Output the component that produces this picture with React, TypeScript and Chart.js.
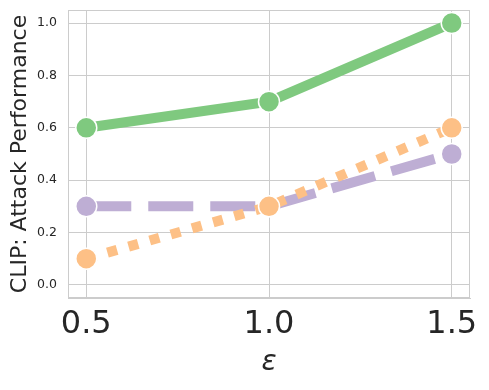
import React, { useEffect, useRef } from "react";
import { Chart, registerables } from "chart.js";

Chart.register(...registerables);

const epsilons = [0.5, 1.0, 1.5];
const greenValues = [0.6, 0.7, 1.0];
const purpleValues = [0.3, 0.3, 0.5];
const orangeValues = [0.1, 0.3, 0.6];
const yTicks = [0.0, 0.2, 0.4, 0.6, 0.8, 1.0];
const xTicks = [0.5, 1.0, 1.5];

const FONT = "'DejaVu Sans', sans-serif";
const TEXT = "#262626";
const GRID = "#cccccc";

const boxPlugin = {
  id: "box",
  beforeDatasetsDraw(chart: any) {
    const { ctx, chartArea } = chart;
    ctx.save();
    ctx.strokeStyle = GRID;
    ctx.lineWidth = 1;
    ctx.strokeRect(
      Math.round(chartArea.left) + 0.5,
      Math.round(chartArea.top) + 0.5,
      Math.round(chartArea.right - chartArea.left) - 1,
      Math.round(chartArea.bottom - chartArea.top) - 1
    );
    ctx.restore();
  },
};

export default function App() {
  const ref = useRef<HTMLCanvasElement | null>(null);
  useEffect(() => {
    if (!ref.current) return;
    const mk = (vals: number[]) => epsilons.map((x, i) => ({ x, y: vals[i] }));
    const common = {
      borderWidth: 10,
      pointRadius: 10.5,
      pointHoverRadius: 10.5,
      pointBorderColor: "#ffffff",
      pointBorderWidth: 1.5,
      tension: 0,
      clip: false,
    };
    const chart = new Chart(ref.current, {
      type: "line",
      data: {
        datasets: [
          {
            label: "orange",
            data: mk(orangeValues),
            borderColor: "#fdc086",
            backgroundColor: "#fdc086",
            pointBackgroundColor: "#fdc086",
            borderDash: [10, 12],
            borderCapStyle: "butt",
            ...common,
          },
          {
            label: "purple",
            data: mk(purpleValues),
            borderColor: "#beaed4",
            backgroundColor: "#beaed4",
            pointBackgroundColor: "#beaed4",
            borderDash: [45, 17],
            borderCapStyle: "butt",
            ...common,
          },
          {
            label: "green",
            data: mk(greenValues),
            borderColor: "#7fc97f",
            backgroundColor: "#7fc97f",
            pointBackgroundColor: "#7fc97f",
            borderCapStyle: "butt",
            ...common,
          },
        ],
      },
      options: {
        responsive: false,
        animation: false,
        layout: { autoPadding: false, padding: { top: 10, right: 19, left: 0, bottom: 0 } },
        plugins: { legend: { display: false }, tooltip: { enabled: false } },
        scales: {
          x: {
            type: "linear",
            min: 0.45,
            max: 1.55,
            afterBuildTicks: (s: any) => {
              s.ticks = xTicks.map((v) => ({ value: v }));
            },
            afterFit: (s: any) => {
              s.height = 92;
            },
            ticks: {
              font: { family: FONT, size: 32 },
              color: TEXT,
              padding: 7,
              maxRotation: 0,
              callback: (v: any) => Number(v).toFixed(1),
            },
            grid: { color: GRID, lineWidth: 1, drawTicks: false },
            border: { color: GRID, width: 1 },
            title: {
              display: true,
              text: "ε",
              font: { family: FONT, size: 28, style: "italic" },
              color: TEXT,
              padding: { top: 0, bottom: 10 },
            },
          },
          y: {
            type: "linear",
            min: -0.05,
            max: 1.05,
            afterBuildTicks: (s: any) => {
              s.ticks = yTicks.map((v) => ({ value: v }));
            },
            afterFit: (s: any) => {
              s.width = 68;
              s.paddingTop = 0;
              s.paddingBottom = 0;
            },
            ticks: {
              font: { family: FONT, size: 12.5 },
              color: TEXT,
              padding: 11,
              callback: (v: any) => Number(v).toFixed(1),
            },
            grid: { color: GRID, lineWidth: 1, drawTicks: false },
            border: { color: GRID, width: 1 },
            title: {
              display: true,
              text: "CLIP: Attack Performance",
              font: { family: FONT, size: 22 },
              color: TEXT,
              padding: { top: 7, bottom: 0 },
            },
          },
        },
      },
      plugins: [boxPlugin],
    } as any);
    return () => chart.destroy();
  }, []);
  return (
    <div style={{ position: "fixed", left: 0, top: 0, width: 489, height: 390, background: "#fff" }}>
      <canvas ref={ref} width={489} height={390} />
    </div>
  );
}
